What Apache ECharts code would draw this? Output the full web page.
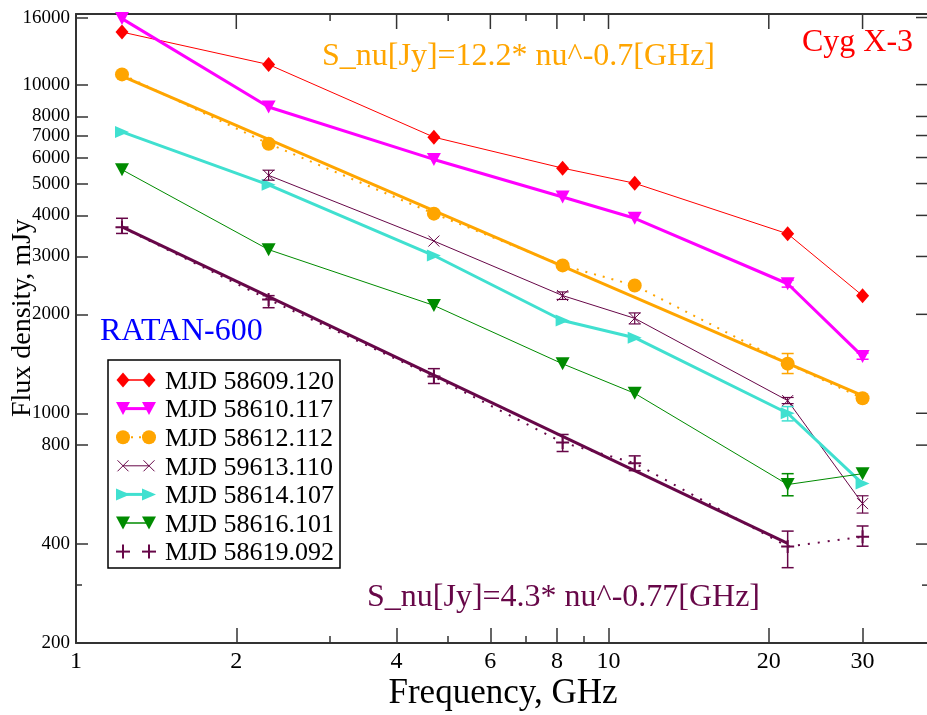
<!DOCTYPE html>
<html>
<head>
<meta charset="utf-8">
<script src="https://cdn.jsdelivr.net/npm/echarts@6/dist/echarts.min.js"></script>
<style>
  html, body { margin: 0; padding: 0; background: #fff; }
  #chart { width: 927px; height: 715px; }
</style>
</head>
<body>
<div id="chart"></div>
<script>
// RATAN-600 spectra of Cyg X-3 (frequency in GHz, flux density in mJy)
const freqs = [1.22, 2.3, 4.7, 8.2, 11.2, 21.7, 30];
const freqs59613 = [2.3, 4.7, 8.2, 11.2, 21.7, 30];

const flux58609 = [14450, 11510, 6920, 5570, 5010, 3516, 2280];
const flux58610 = [15880, 8550, 5920, 4550, 3920, 2478, 1489];
const flux58612 = [10740, 6610, 4050, 2818, 2449, 1416, 1111];
const flux59613 = [5296, 3342, 2281, 1945, 1093, 531];
const flux58614 = [7180, 4955, 3020, 1915, 1698, 1000, 611];
const flux58616 = [5509, 3147, 2129, 1414, 1150, 607, 655];
const flux58619 = [3680, 2219, 1293, 815, 705, 393, 421];

// Power-law fits: endpoints of S = 12.2 nu^-0.7 Jy and S = 4.3 nu^-0.77 Jy
const fitHighFreqs = [1.22, 30];
const fitHighFlux = [10614, 1131];
const fitLowFreqs = [1.22, 21.7];
const fitLowFlux = [3689, 402];

// Error bars: [frequency, lower, upper]
const err58610 = [[21.7, 2420, 2540], [30, 1460, 1525]];
const err58612 = [[21.7, 1321, 1520]];
const err59613 = [[2.3, 5120, 5490], [8.2, 2220, 2340], [11.2, 1870, 2020], [21.7, 1070, 1117], [30, 497, 561]];
const err58614 = [[21.7, 948, 1048]];
const err58616 = [[21.7, 561, 655]];
const err58619 = [[1.22, 3525, 3920], [2.3, 2095, 2280], [4.7, 1232, 1367], [8.2, 765, 862],
                  [11.2, 669, 742], [21.7, 339, 438], [30, 394, 454]];

// Tick values
const xTicks = [1, 2, 4, 6, 8, 10, 20, 30];
const xMinorTicks = [3, 5, 7, 9];
const yTicks = [200, 400, 800, 1000, 2000, 3000, 4000, 5000, 6000, 7000, 8000, 10000, 16000];
const yMinorTicks = [300];

const seriesNames = ['MJD 58609.120', 'MJD 58610.117', 'MJD 58612.112', 'MJD 59613.110',
                     'MJD 58614.107', 'MJD 58616.101', 'MJD 58619.092'];

const L = Math.log10;
const FONT = 'Liberation Serif';
const AXIS_COLOR = '#333';
const RED = '#ff0000', MAGENTA = '#ff00ff', ORANGE = '#ffa500', MAROON = '#670748',
      TURQ = '#40e0d0', GREEN = '#008b00', BLUE = '#0000ff';

const X_MIN = 0, X_MAX = 1.6, Y_MIN = L(200), Y_MAX = L(16400);

const toPts = (fx, fy) => fx.map((f, i) => [L(f), L(fy[i])]);
const fmtPow = v => String(Math.round(Math.pow(10, v)));

const CROSS = 'path://M0,0L10,10M10,0L0,10';
const PLUS = 'path://M5,0L5,10M0,5L10,5';

function xAxisDef(position, ticks, len, withLabels, withLine, withTicks) {
  return {
    type: 'value', position, min: X_MIN, max: X_MAX, gridIndex: 0,
    axisLine: { show: withLine, onZero: false, lineStyle: { color: AXIS_COLOR, width: 2 } },
    axisTick: { show: withTicks, inside: true, length: len, customValues: ticks.map(L),
                lineStyle: { color: AXIS_COLOR, width: 1.5 } },
    axisLabel: { show: withLabels, customValues: ticks.map(L), formatter: fmtPow,
                 color: '#000', fontFamily: FONT, fontSize: 24, margin: 7 },
    splitLine: { show: false }
  };
}
function yAxisDef(position, ticks, len, withLabels, withLine, withTicks) {
  return {
    type: 'value', position, min: Y_MIN, max: Y_MAX, gridIndex: 0,
    axisLine: { show: withLine, onZero: false, lineStyle: { color: AXIS_COLOR, width: 2 } },
    axisTick: { show: withTicks, inside: true, length: len, customValues: ticks.map(L),
                lineStyle: { color: AXIS_COLOR, width: 1.5 } },
    axisLabel: { show: withLabels, customValues: ticks.map(L), formatter: fmtPow,
                 color: '#000', fontFamily: FONT, fontSize: 19, margin: 6 },
    splitLine: { show: false }
  };
}

function lineSeries(name, pts, color, width, dash, symbol, size, rotate, stroke) {
  return {
    type: 'line', name, data: pts, clip: false, z: 3,
    symbol, symbolSize: size, symbolRotate: rotate || 0,
    showSymbol: true, showAllSymbol: true,
    lineStyle: { color, width, type: dash || 'solid' },
    itemStyle: { color, borderColor: color, borderWidth: stroke || 0, opacity: 1 },
    emphasis: { disabled: true }
  };
}

function errorBars(errs, color, width) {
  return {
    type: 'custom', silent: true, clip: false, z: 4,
    data: errs.map(e => [L(e[0]), L(e[1]), L(e[2])]),
    encode: { x: 0, y: [1, 2] },
    renderItem(params, api) {
      const lo = api.coord([api.value(0), api.value(1)]);
      const hi = api.coord([api.value(0), api.value(2)]);
      const c = 6;
      const st = { stroke: color, lineWidth: width };
      return {
        type: 'group',
        children: [
          { type: 'line', shape: { x1: lo[0], y1: lo[1], x2: hi[0], y2: hi[1] }, style: st },
          { type: 'line', shape: { x1: lo[0] - c, y1: lo[1], x2: lo[0] + c, y2: lo[1] }, style: st },
          { type: 'line', shape: { x1: hi[0] - c, y1: hi[1], x2: hi[0] + c, y2: hi[1] }, style: st }
        ]
      };
    }
  };
}

// Mirror ticks on the top and right edges of the frame, placed through the axes' scales
function mirrorTicks() {
  const data = [];
  xTicks.forEach(v => data.push([L(v), 0, 15]));
  xMinorTicks.forEach(v => data.push([L(v), 0, 7]));
  yTicks.forEach(v => data.push([L(v), 1, 12]));
  yMinorTicks.forEach(v => data.push([L(v), 1, 6]));
  return {
    type: 'custom', silent: true, clip: false, z: 5,
    data,
    encode: { x: -1, y: -1 },
    renderItem(params, api) {
      const v = api.value(0), kind = api.value(1), len = api.value(2);
      const st = { stroke: AXIS_COLOR, lineWidth: 1.5 };
      if (kind === 0) {
        const p = api.coord([v, Y_MAX]);
        return { type: 'line', shape: { x1: p[0], y1: p[1], x2: p[0], y2: p[1] + len }, style: st };
      }
      const p = api.coord([X_MAX, v]);
      return { type: 'line', shape: { x1: p[0], y1: p[1], x2: p[0] - len, y2: p[1] }, style: st };
    }
  };
}

// Legend drawn as graphics: two markers joined by the series line
const LZ = 20;
function marker(kind, cx, cy, color) {
  switch (kind) {
    case 'diamond':
      return [{ type: 'polygon', z: LZ, shape: { points: [[cx, cy - 7.5], [cx + 6.5, cy], [cx, cy + 7.5], [cx - 6.5, cy]] }, style: { fill: color } }];
    case 'down':
      return [{ type: 'polygon', z: LZ, shape: { points: [[cx - 7, cy - 6.5], [cx + 7, cy - 6.5], [cx, cy + 6.5]] }, style: { fill: color } }];
    case 'right':
      return [{ type: 'polygon', z: LZ, shape: { points: [[cx - 7, cy - 6], [cx + 7, cy], [cx - 7, cy + 6]] }, style: { fill: color } }];
    case 'circle':
      return [{ type: 'circle', z: LZ, shape: { cx, cy, r: 7 }, style: { fill: color } }];
    case 'cross':
      return [
        { type: 'line', z: LZ, shape: { x1: cx - 5.5, y1: cy - 5.5, x2: cx + 5.5, y2: cy + 5.5 }, style: { stroke: color, lineWidth: 1 } },
        { type: 'line', z: LZ, shape: { x1: cx - 5.5, y1: cy + 5.5, x2: cx + 5.5, y2: cy - 5.5 }, style: { stroke: color, lineWidth: 1 } } ];
    case 'plus':
      return [
        { type: 'line', z: LZ, shape: { x1: cx - 7, y1: cy, x2: cx + 7, y2: cy }, style: { stroke: color, lineWidth: 2 } },
        { type: 'line', z: LZ, shape: { x1: cx, y1: cy - 7, x2: cx, y2: cy + 7 }, style: { stroke: color, lineWidth: 2 } } ];
  }
  return [];
}

const legendSpec = [
  { kind: 'diamond', color: RED, width: 1.5, dash: null },
  { kind: 'down', color: MAGENTA, width: 3, dash: null },
  { kind: 'circle', color: ORANGE, width: 2, dash: [2, 6] },
  { kind: 'cross', color: MAROON, width: 1, dash: null },
  { kind: 'right', color: TURQ, width: 3, dash: null },
  { kind: 'down', color: GREEN, width: 1.5, dash: null },
  { kind: 'plus', color: MAROON, width: 0, dash: null }
];

function textEl(text, x, y, size, color, align, rotation, z) {
  return { type: 'text', x, y, rotation: rotation || 0, z: z || 12,
    style: { text, fill: color, fontSize: size, fontFamily: FONT,
             align: align || 'left', verticalAlign: 'middle',
             textAlign: align || 'left', textVerticalAlign: 'middle' } };
}

const legendGraphics = [
  { type: 'rect', z: LZ - 1, shape: { x: 108, y: 360, width: 232, height: 208 },
    style: { fill: '#fff', stroke: '#000', lineWidth: 1.5 } }
];
legendSpec.forEach((s, i) => {
  const y = 380 + i * 28.6;
  const x1 = 123, x2 = 149;
  if (s.width > 0) {
    legendGraphics.push({ type: 'line', z: LZ, shape: { x1, y1: y, x2, y2: y },
      style: { stroke: s.color, lineWidth: s.width, lineDash: s.dash || null } });
  }
  legendGraphics.push(...marker(s.kind, x1, y, s.color));
  legendGraphics.push(...marker(s.kind, x2, y, s.color));
  legendGraphics.push(textEl(seriesNames[i], 165, y + 2, 26, '#000', 'left', 0, LZ));
});

const option = {
  animation: false,
  backgroundColor: '#fff',
  grid: { left: 76, top: 14, width: 852, height: 629, containLabel: false, outerBoundsMode: 'none' },
  xAxis: [
    xAxisDef('bottom', xTicks, 15, true, true, true),
    xAxisDef('top', xTicks, 15, false, true, false),
    xAxisDef('bottom', xMinorTicks, 7, false, false, true)
  ],
  yAxis: [
    yAxisDef('left', yTicks, 12, true, true, true),
    yAxisDef('right', yTicks, 12, false, true, false),
    yAxisDef('left', yMinorTicks, 6, false, false, true)
  ],
  series: [
    lineSeries(seriesNames[0], toPts(freqs, flux58609), RED, 1, null, 'diamond', [13, 15]),
    lineSeries(seriesNames[1], toPts(freqs, flux58610), MAGENTA, 3, null, 'triangle', [14, 13], 180),
    lineSeries(seriesNames[2], toPts(freqs, flux58612), ORANGE, 2, [2, 7], 'circle', 14),
    lineSeries(seriesNames[3], toPts(freqs59613, flux59613), MAROON, 1, null, CROSS, 11, 0, 1),
    lineSeries(seriesNames[4], toPts(freqs, flux58614), TURQ, 3, null, 'triangle', [12, 14], -90),
    lineSeries(seriesNames[5], toPts(freqs, flux58616), GREEN, 1, null, 'triangle', [14, 13], 180),
    lineSeries(seriesNames[6], toPts(freqs, flux58619), MAROON, 2, [2, 8], PLUS, 13, 0, 2),
    lineSeries('fit 12.2', toPts(fitHighFreqs, fitHighFlux), ORANGE, 3, null, 'none', 0),
    lineSeries('fit 4.3', toPts(fitLowFreqs, fitLowFlux), MAROON, 3, null, 'none', 0),
    errorBars(err58610, MAGENTA, 1.5),
    errorBars(err58612, ORANGE, 1.5),
    errorBars(err59613, MAROON, 1.2),
    errorBars(err58614, TURQ, 1.5),
    errorBars(err58616, GREEN, 1.5),
    errorBars(err58619, MAROON, 1.5),
    mirrorTicks()
  ],
  graphic: [
    ...legendGraphics,
    textEl('S_nu[Jy]=12.2* nu^-0.7[GHz]', 322, 57, 32, ORANGE),
    textEl('Cyg X-3', 802, 43, 32, RED),
    textEl('RATAN-600', 100, 332, 32, BLUE),
    textEl('S_nu[Jy]=4.3* nu^-0.77[GHz]', 367, 598, 32, MAROON),
    textEl('Frequency, GHz', 503, 694, 35, '#000', 'center'),
    textEl('Flux density, mJy', 23, 318, 28, '#000', 'center', Math.PI / 2)
  ]
};

const chart = echarts.init(document.getElementById('chart'), null, { renderer: 'canvas' });
chart.setOption(option);
</script>
</body>
</html>
